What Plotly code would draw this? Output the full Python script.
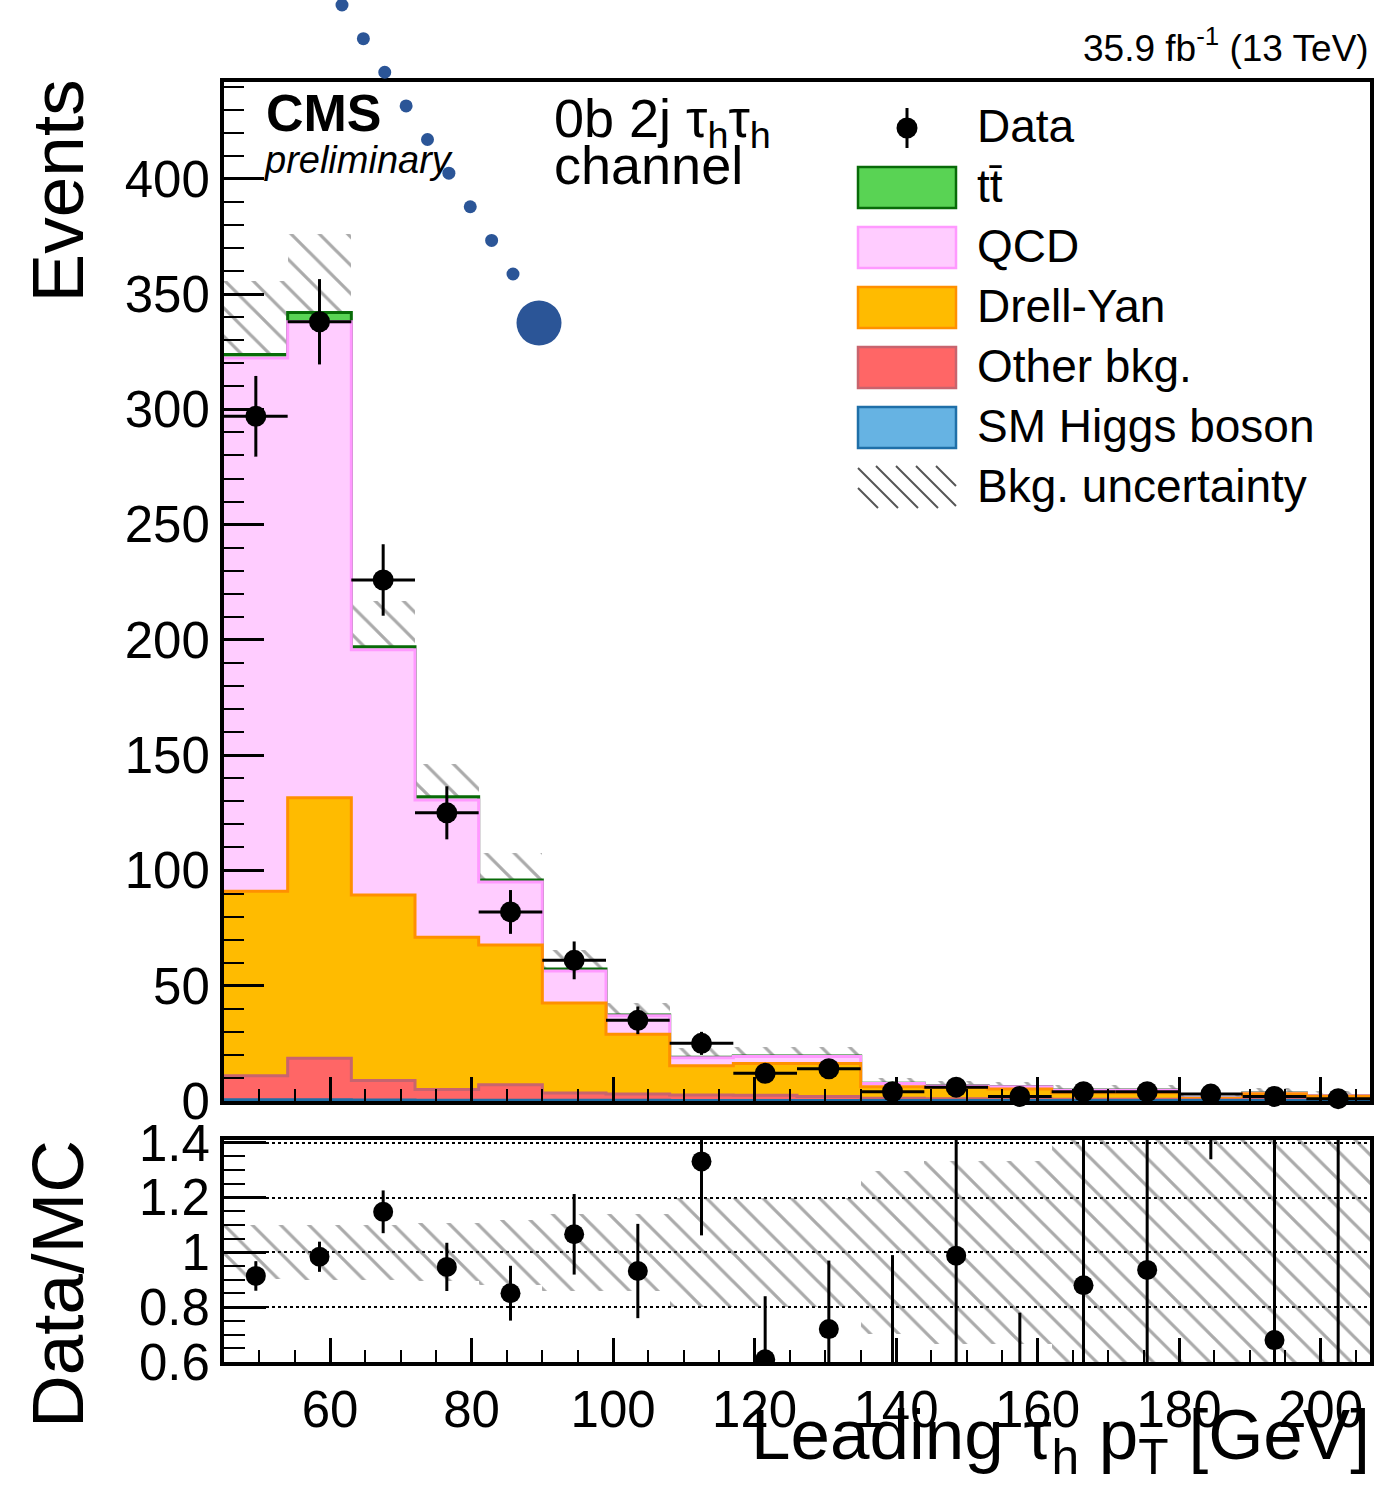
import numpy as np
import plotly.graph_objects as go

# ---------------- data ----------------
edges = [45, 54, 63, 72, 81, 90, 99, 108, 117, 126, 135, 144, 153, 162, 171, 180, 189, 198, 207]
higgs = [0.5, 0.5, 0.4, 0.3, 0.3, 0.3, 0.3, 0.2, 0.2, 0.2, 0.2, 0.2, 0.2, 0.2, 0.2, 0.2, 0.2, 0.2]
other = [10.5, 18.0, 8.5, 4.7, 6.7, 3.2, 2.7, 2.4, 2.3, 1.7, 1.0, 0.8, 0.8, 0.6, 0.6, 0.3, 0.4, 0.3]
drellyan = [80.0, 113.0, 80.5, 66.0, 60.7, 39.0, 26.0, 12.7, 13.8, 14.4, 5.0, 4.9, 4.2, 2.8, 2.8, 0.6, 2.5, 1.6]
qcd = [231.3, 206.5, 106.3, 59.6, 27.3, 13.9, 8.0, 3.5, 3.0, 3.0, 1.4, 0.6, 1.0, 1.1, 1.1, 0.2, 0.3, 0.2]
ttbar = [1.5, 4.0, 1.3, 1.4, 0.9, 0.9, 0.3, 0.2, 0.2, 0.2, 0.1, 0.1, 0.1, 0.1, 0.1, 0.0, 0.1, 0.0]
bkg_unc = [32, 34, 20, 14, 11.5, 8, 5.2, 3.8, 3.9, 3.9, 2.3, 2.2, 2.1, 2.0, 2.0, 2.0, 2.0, 2.0]
data = [297, 338, 226, 125, 82, 61, 35, 25, 12, 14, 4, 6, 2, 4, 4, 3, 2, 1]
data_err = [17.5, 18.5, 15.5, 11.5, 9.5, 8.2, 6.0, 5.0, 3.5, 3.7, 2.0, 2.5, 1.4, 2.0, 2.0, 1.7, 1.4, 1.0]
ratio = [0.914, 0.984, 1.148, 0.947, 0.851, 1.066, 0.932, 1.332, 0.61, 0.72, 0.53, 0.988, 0.33, 0.88, 0.936, 2.0, 0.68, 0.43]
ratio_err = [0.054, 0.055, 0.078, 0.088, 0.10, 0.147, 0.172, 0.27, 0.23, 0.25, 0.46, 0.45, 0.45, 0.6, 0.6, 0.66, 0.75, 1.1]

edges_a = np.array(edges, dtype=float)
centers = 0.5 * (edges_a[:-1] + edges_a[1:])
widths = np.diff(edges_a)

# stack order: bottom -> top
stack_defs = [
    ("SM Higgs boson", higgs, "#66b3e3", "#1f6fa8"),
    ("Other bkg.", other, "#ff6666", "#c8646e"),
    ("Drell-Yan", drellyan, "#ffbb00", "#ff9000"),
    ("QCD", qcd, "#ffccff", "#ff99ff"),
    ("tt\u0304", ttbar, "#59d354", "#086b08"),
]

W, H = 1374, 1487
ML, MR, MT, MB = 224, 4, 82, 125
PW, PH = W - ML - MR, H - MT - MB


def px2x(px):
    return (px - ML) / PW


def py2y(py):
    return (H - MB - py) / PH


FONT = "Liberation Sans, Arial, Helvetica, sans-serif"

fig = go.Figure()

# cumulative stack, drawn from the top level down (ROOT THStack style)
cums = []
cum = np.zeros(len(centers))
for name, vals, fc, lc in stack_defs:
    cum = cum + np.array(vals, dtype=float)
    cums.append((name, cum.copy(), fc, lc))
for name, c, fc, lc in reversed(cums):
    yy = list(c) + [c[-1]]
    fig.add_trace(go.Scatter(
        x=edges_a, y=yy, mode="lines", line=dict(shape="hv", color=lc, width=3),
        fill="tozeroy", fillcolor=fc,
        name=name, showlegend=False, xaxis="x", yaxis="y", hoverinfo="skip"))
total = cums[-1][1]
unc = np.array(bkg_unc, dtype=float)

pattern = dict(shape="\\", fgcolor="#555555", bgcolor="rgba(0,0,0,0)", size=20,
               solidity=0.16, fillmode="overlay")

# main uncertainty band
fig.add_trace(go.Bar(
    x=centers, y=2 * unc, base=total - unc, width=widths,
    marker=dict(color="rgba(0,0,0,0)", line=dict(width=0), pattern=pattern),
    showlegend=False, xaxis="x", yaxis="y", hoverinfo="skip"))

# data
fig.add_trace(go.Scatter(
    x=centers, y=data, mode="markers",
    marker=dict(color="black", size=21),
    error_y=dict(type="data", array=data_err, color="black", thickness=3, width=0),
    error_x=dict(type="data", array=widths / 2, color="black", thickness=3, width=0),
    cliponaxis=False, showlegend=False, xaxis="x", yaxis="y"))

# ratio uncertainty band
rel = unc / total
fig.add_trace(go.Bar(
    x=centers, y=2 * rel, base=1 - rel, width=widths,
    marker=dict(color="rgba(0,0,0,0)", line=dict(width=0), pattern=pattern),
    showlegend=False, xaxis="x2", yaxis="y2", hoverinfo="skip"))

# ratio points
fig.add_trace(go.Scatter(
    x=centers, y=ratio, mode="markers",
    marker=dict(color="black", size=20),
    error_y=dict(type="data", array=ratio_err, color="black", thickness=3, width=0),
    cliponaxis=True, showlegend=False, xaxis="x2", yaxis="y2"))

tickfont = dict(family=FONT, size=51, color="black")
main_bottom = py2y(1101)
ratio_top = py2y(1140)

xcommon = dict(range=[45, 207], showgrid=False, zeroline=False, showline=True, linecolor="black",
               linewidth=4, mirror=True, ticks="inside", ticklen=24, tickwidth=2.5, tickcolor="black",
               tick0=0, dtick=20,
               minor=dict(ticks="inside", ticklen=12, tickwidth=2, tickcolor="black", dtick=5, showgrid=False))

fig.update_layout(
    width=W, height=H,
    margin=dict(l=ML, r=MR, t=MT, b=MB, autoexpand=False),
    plot_bgcolor="white", paper_bgcolor="white",
    barmode="overlay", bargap=0,
    showlegend=False,
    font=dict(family=FONT, color="black"),
    xaxis=dict(**xcommon, anchor="y", domain=[0, 1], showticklabels=False),
    xaxis2=dict(**xcommon, anchor="y2", domain=[0, 1], matches="x", showticklabels=True,
                tickfont=tickfont),
    yaxis=dict(domain=[main_bottom, 1], range=[0, 442], anchor="x", showgrid=False, zeroline=False,
               showline=True, linecolor="black", linewidth=4, mirror=True,
               ticks="inside", ticklen=40, tickwidth=2.5, tickcolor="black", tick0=0, dtick=50,
               minor=dict(ticks="inside", ticklen=20, tickwidth=2, tickcolor="black", dtick=10),
               tickfont=tickfont),
    yaxis2=dict(domain=[0, ratio_top], range=[0.6, 1.41], anchor="x2", zeroline=False,
                showline=True, linecolor="black", linewidth=4, mirror=True,
                ticks="inside", ticklen=42, tickwidth=2.5, tickcolor="black", tick0=0.6, dtick=0.2,
                showgrid=True, gridcolor="black", griddash="dot", gridwidth=2,
                minor=dict(ticks="inside", ticklen=21, tickwidth=2, tickcolor="black", dtick=0.05,
                           showgrid=False),
                tickfont=tickfont),
)

ann = []


def add_text(text, px, py, size, xanchor="left", yanchor="middle", angle=0, **kw):
    ann.append(dict(text=text, x=px2x(px), y=py2y(py), xref="paper", yref="paper",
                    xanchor=xanchor, yanchor=yanchor, showarrow=False, textangle=angle,
                    font=dict(family=FONT, size=size, color="black"), **kw))


add_text("<b>CMS</b>", 264, 113, 52)
add_text("<i>preliminary</i>", 262, 160, 38)
add_text("0b 2j \u03c4<sub>h</sub>\u03c4<sub>h</sub>", 552, 122, 54)
add_text("channel", 552, 165, 54)
add_text("35.9 fb<sup>-1</sup> (13 TeV)", 1371, 45, 37, xanchor="right")
add_text("Events", 57, 78, 73, xanchor="center", yanchor="top", angle=-90)
add_text("Data/MC", 57, 1138, 73, xanchor="center", yanchor="top", angle=-90)
add_text("Leading \u03c4<sub>h</sub> p<sub>T</sub> [GeV]", 1372, 1393, 71, xanchor="right", yanchor="top")

# legend (manual)
leg_labels = ["Data", "tt\u0304", "QCD", "Drell-Yan", "Other bkg.", "SM Higgs boson", "Bkg. uncertainty"]
leg_y = [125, 185, 245, 305, 365, 425, 485]
for lab, yc in zip(leg_labels, leg_y):
    add_text(lab, 975, yc + 1, 46)

shapes = []
# data legend marker
shapes.append(dict(type="line", xref="paper", yref="paper", x0=px2x(907), x1=px2x(907),
                   y0=py2y(108), y1=py2y(148), line=dict(color="black", width=3)))
shapes.append(dict(type="circle", xref="paper", yref="paper", xsizemode="pixel", ysizemode="pixel",
                   xanchor=px2x(907), yanchor=py2y(128), x0=-10.5, x1=10.5, y0=-10.5, y1=10.5,
                   fillcolor="black", line=dict(width=0)))
legend_boxes = [("tt\u0304", 187), ("QCD", 247), ("Drell-Yan", 307), ("Other bkg.", 367), ("SM Higgs boson", 427)]
colors = {n: (fc, lc) for n, _, fc, lc in stack_defs}
for name, yc in legend_boxes:
    fc, lc = colors[name]
    shapes.append(dict(type="rect", xref="paper", yref="paper", x0=px2x(858), x1=px2x(956),
                       y0=py2y(yc - 20), y1=py2y(yc + 21), fillcolor=fc, line=dict(color=lc, width=2.5)))
# hatch swatch
bx0, bx1, by0, by1 = 858, 956, 466, 508
hgt = by1 - by0
for off in range(-hgt, bx1 - bx0, 20):
    xs0, ys0 = bx0 + off, by0
    xs1, ys1 = bx0 + off + hgt, by1
    if xs0 < bx0:
        ys0 += bx0 - xs0
        xs0 = bx0
    if xs1 > bx1:
        ys1 -= xs1 - bx1
        xs1 = bx1
    if xs1 - xs0 < 2:
        continue
    shapes.append(dict(type="line", xref="paper", yref="paper", x0=px2x(xs0), x1=px2x(xs1),
                       y0=py2y(ys0), y1=py2y(ys1), line=dict(color="#555555", width=2)))

# decorative blue dotted trail
for cx, cy in zip(np.linspace(342, 513, 9), np.linspace(5, 274, 9)):
    shapes.append(dict(type="circle", xref="paper", yref="paper", xsizemode="pixel", ysizemode="pixel",
                       xanchor=px2x(cx), yanchor=py2y(cy), x0=-6.5, x1=6.5, y0=-6.5, y1=6.5,
                       fillcolor="#2b5597", line=dict(width=0)))
shapes.append(dict(type="circle", xref="paper", yref="paper", xsizemode="pixel", ysizemode="pixel",
                   xanchor=px2x(539), yanchor=py2y(323), x0=-22.5, x1=22.5, y0=-22.5, y1=22.5,
                   fillcolor="#2b5597", line=dict(width=0)))

fig.update_layout(annotations=ann, shapes=shapes)
fig.write_html("out.html", config={"displayModeBar": False},
               post_script="document.body.style.margin='0px';document.body.style.overflow='hidden';")
